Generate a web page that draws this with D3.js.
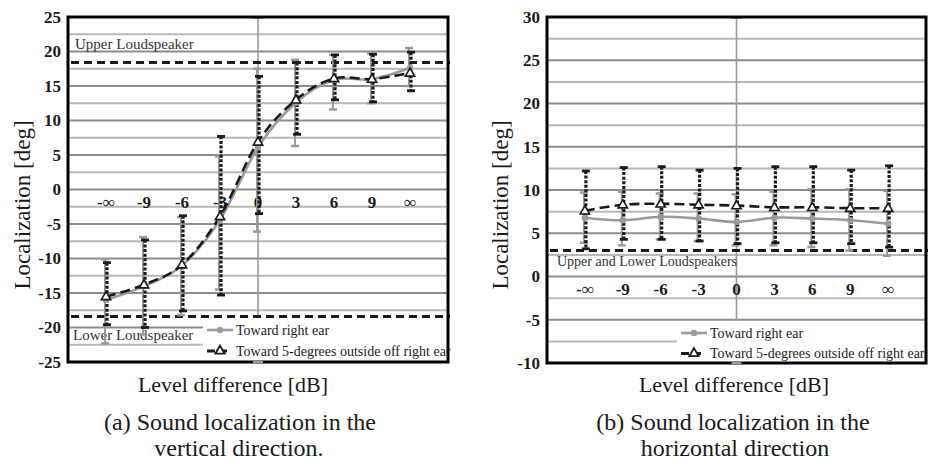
<!DOCTYPE html>
<html>
<head>
<meta charset="utf-8">
<script src="https://cdn.jsdelivr.net/npm/d3@7"></script>
<style>
  html, body { margin: 0; padding: 0; background: #fff; }
  svg { display: block; font-family: "Liberation Serif", "Times New Roman", serif; }
</style>
</head>
<body>
<svg id="chart" width="928" height="462"></svg>
<script>
// ---------- data ----------
const categories = ["-\u221E", "-9", "-6", "-3", "0", "3", "6", "9", "\u221E"];
const seriesNames = ["Toward right ear", "Toward 5-degrees outside off right ear"];

// (a) vertical direction
const vRightEar   = [-16.0, -14.0, -11.0, -4.4, 6.1, 12.6, 15.9, 16.0, 17.6];
const vRightEarHi = [-10.1, -6.9, -4.0, 4.8, 17.5, 18.8, 19.5, 19.7, 20.5];
const vRightEarLo = [-22.3, -21.0, -18.2, -14.5, -6.1, 6.3, 11.6, 12.5, 15.0];
const vOutside    = [-15.5, -13.8, -10.9, -3.9, 6.9, 13.0, 16.1, 16.0, 16.9];
const vOutsideHi  = [-10.6, -7.3, -3.8, 7.7, 16.4, 18.4, 19.5, 19.6, 19.9];
const vOutsideLo  = [-19.6, -20.0, -17.6, -15.3, -3.5, 8.0, 13.0, 12.7, 14.3];
const vSpeakers   = [18.4, -18.4];
const vTicks      = [25, 20, 15, 10, 5, 0, -5, -10, -15, -20, -25];

// (b) horizontal direction
const hRightEar   = [6.8, 6.5, 6.9, 6.7, 6.3, 6.8, 6.7, 6.5, 6.1];
const hRightEarHi = [9.7, 9.8, 9.6, 9.6, 9.5, 9.8, 10.1, 10.1, 9.9];
const hRightEarLo = [3.9, 3.6, 4.3, 4.1, 3.6, 3.6, 3.4, 3.0, 2.4];
const hOutside    = [7.6, 8.3, 8.4, 8.3, 8.2, 8.0, 8.0, 7.9, 7.9];
const hOutsideHi  = [12.2, 12.6, 12.7, 12.3, 12.5, 12.7, 12.7, 12.3, 12.8];
const hOutsideLo  = [3.2, 4.3, 4.3, 4.1, 3.8, 3.9, 3.9, 3.8, 3.4];
const hSpeakers   = [3.0];
const hTicks      = [30, 25, 20, 15, 10, 5, 0, -5, -10];

const yTitle = "Localization [deg]";
const xTitle = "Level difference [dB]";
const captionA = ["(a) Sound localization in the", "vertical direction."];
const captionB = ["(b) Sound localization in the", "horizontal direction"];
const speakerLabelsA = ["Upper Loudspeaker", "Lower Loudspeaker"];
const speakerLabelsB = ["Upper and Lower Loudspeakers"];

// ---------- drawing ----------
const svg = d3.select("#chart");
const GRAY = "#9a9a9a";
const BLACK = "#1a1a1a";

function drawPanel(cfg) {
  const g = svg.append("g");
  const x = d3.scalePoint().domain(categories).range([cfg.left, cfg.right]).padding(1);
  const y = d3.scaleLinear().domain(cfg.domain).range([cfg.bottom, cfg.top]);

  // gridlines every 2.5
  const grid = d3.range(cfg.domain[0], cfg.domain[1] + 0.001, 2.5);
  g.append("g").selectAll("line").data(grid).join("line")
    .attr("x1", cfg.left).attr("x2", cfg.right)
    .attr("y1", d => y(d)).attr("y2", d => y(d))
    .attr("stroke", d => (Math.abs(d % 5) < 1e-6 ? "#8c8c8c" : "#b8b8b8"))
    .attr("stroke-width", 2);

  // vertical axis crossing at category "0"
  const x0 = x("0");
  g.append("line").attr("x1", x0).attr("x2", x0)
    .attr("y1", cfg.top).attr("y2", cfg.bottom)
    .attr("stroke", GRAY).attr("stroke-width", 1.6);
  g.append("line").attr("x1", x0 - 5).attr("x2", x0 + 5)
    .attr("y1", cfg.top + 1).attr("y2", cfg.top + 1)
    .attr("stroke", GRAY).attr("stroke-width", 2);

  // y tick labels
  g.append("g").selectAll("text").data(cfg.ticks).join("text")
    .attr("x", cfg.left - 7).attr("y", d => y(d))
    .attr("dy", "0.35em").attr("text-anchor", "end")
    .attr("font-size", 17).attr("font-weight", "bold").attr("fill", BLACK)
    .text(d => d);

  // category labels inside the plot, below y=0
  g.append("g").selectAll("text").data(categories).join("text")
    .attr("x", d => x(d)).attr("y", y(0) + 18.5)
    .attr("text-anchor", "middle")
    .attr("font-size", 17).attr("font-weight", "bold").attr("fill", BLACK)
    .text(d => d);

  // loudspeaker dashed lines
  g.append("g").selectAll("line").data(cfg.speakers).join("line")
    .attr("x1", cfg.left + 3).attr("x2", cfg.right + 2)
    .attr("y1", d => y(d)).attr("y2", d => y(d))
    .attr("stroke", BLACK).attr("stroke-width", 3)
    .attr("stroke-dasharray", "8,5");

  // speaker labels
  cfg.speakerLabels.forEach(s => {
    g.append("text").attr("x", s.x).attr("y", s.y)
      .attr("font-size", s.size).attr("fill", "#333").text(s.text);
  });

  const idx = d3.range(categories.length);

  // error bars: gray series
  const eg = g.append("g");
  idx.forEach(i => {
    const cx = x(categories[i]) - 1;
    eg.append("line").attr("x1", cx).attr("x2", cx)
      .attr("y1", y(cfg.s1Hi[i])).attr("y2", y(cfg.s1Lo[i]))
      .attr("stroke", GRAY).attr("stroke-width", 2);
    [cfg.s1Hi[i], cfg.s1Lo[i]].forEach(v => {
      eg.append("line").attr("x1", cx - 4).attr("x2", cx + 4)
        .attr("y1", y(v)).attr("y2", y(v))
        .attr("stroke", GRAY).attr("stroke-width", 2.5);
    });
  });
  // error bars: black series (dotted)
  const eb = g.append("g");
  idx.forEach(i => {
    const cx = x(categories[i]) + 1;
    eb.append("line").attr("x1", cx).attr("x2", cx)
      .attr("y1", y(cfg.s2Hi[i])).attr("y2", y(cfg.s2Lo[i]))
      .attr("stroke", BLACK).attr("stroke-width", 3.2)
      .attr("stroke-dasharray", "3,1.6");
    [cfg.s2Hi[i], cfg.s2Lo[i]].forEach(v => {
      eb.append("line").attr("x1", cx - 4).attr("x2", cx + 4)
        .attr("y1", y(v)).attr("y2", y(v))
        .attr("stroke", BLACK).attr("stroke-width", 2.8);
    });
  });

  // series lines (smoothed)
  const line = d3.line()
    .x((d, i) => x(categories[i]))
    .y(d => y(d))
    .curve(d3.curveCardinal.tension(0));
  g.append("path").datum(cfg.s1).attr("d", line)
    .attr("fill", "none").attr("stroke", GRAY).attr("stroke-width", 2.6);
  g.append("path").datum(cfg.s2).attr("d", line)
    .attr("fill", "none").attr("stroke", BLACK).attr("stroke-width", 2.6)
    .attr("stroke-dasharray", "10,5");

  // markers
  g.append("g").selectAll("circle").data(cfg.s1).join("circle")
    .attr("cx", (d, i) => x(categories[i])).attr("cy", d => y(d))
    .attr("r", 3.2).attr("fill", GRAY);
  const tri = d3.symbol().type(d3.symbolTriangle).size(38);
  g.append("g").selectAll("path").data(cfg.s2).join("path")
    .attr("d", tri)
    .attr("transform", (d, i) => `translate(${x(categories[i])},${y(d) + 0.5})`)
    .attr("fill", "#fff").attr("stroke", BLACK).attr("stroke-width", 1.6);

  // legend
  const L = cfg.legend;
  g.append("rect").attr("x", L.x).attr("y", L.y).attr("width", cfg.right - L.x)
    .attr("height", cfg.bottom - L.y).attr("fill", "#fff");
  const lx1 = L.x + 4, lx2 = L.x + 30, lm = (lx1 + lx2) / 2;
  g.append("line").attr("x1", lx1).attr("x2", lx2).attr("y1", L.r1).attr("y2", L.r1)
    .attr("stroke", GRAY).attr("stroke-width", 2.6);
  g.append("circle").attr("cx", lm).attr("cy", L.r1).attr("r", 3.2).attr("fill", GRAY);
  g.append("line").attr("x1", lx1).attr("x2", lx2).attr("y1", L.r2).attr("y2", L.r2)
    .attr("stroke", BLACK).attr("stroke-width", 2.8).attr("stroke-dasharray", "8,4,8");
  g.append("path").attr("d", tri).attr("transform", `translate(${lm},${L.r2})`)
    .attr("fill", "#fff").attr("stroke", BLACK).attr("stroke-width", 1.8);
  [L.r1, L.r2].forEach((ry, k) => {
    g.append("text").attr("x", lx2 + 3).attr("y", ry).attr("dy", "0.33em")
      .attr("font-size", 14).attr("fill", BLACK).text(seriesNames[k]);
  });

  // frame
  g.append("rect").attr("x", cfg.left).attr("y", cfg.top)
    .attr("width", cfg.right - cfg.left).attr("height", cfg.bottom - cfg.top)
    .attr("fill", "none").attr("stroke", "#000").attr("stroke-width", 3);
  // bottom tick of vertical axis
  g.append("line").attr("x1", x0 - 5).attr("x2", x0 + 5)
    .attr("y1", cfg.bottom).attr("y2", cfg.bottom)
    .attr("stroke", GRAY).attr("stroke-width", 2);

  // axis titles
  g.append("text")
    .attr("transform", `translate(${cfg.yTitleX},${cfg.yTitleY}) rotate(-90)`)
    .attr("text-anchor", "middle").attr("dy", "0.35em")
    .attr("font-size", 23).attr("fill", BLACK).text(yTitle);
  g.append("text").attr("x", cfg.xTitleX).attr("y", 392)
    .attr("text-anchor", "middle").attr("font-size", 22).attr("fill", BLACK).text(xTitle);
  cfg.caption.forEach((c, k) => {
    g.append("text").attr("x", cfg.capX[k]).attr("y", k === 0 ? 430 : 456)
      .attr("text-anchor", "middle").attr("font-size", 24).attr("fill", BLACK).text(c);
  });
}

drawPanel({
  left: 68, right: 448, top: 17, bottom: 362, domain: [-25, 25], ticks: vTicks,
  s1: vRightEar, s1Hi: vRightEarHi, s1Lo: vRightEarLo,
  s2: vOutside, s2Hi: vOutsideHi, s2Lo: vOutsideLo,
  speakers: vSpeakers,
  speakerLabels: [
    { text: speakerLabelsA[0], x: 75, y: 49, size: 15 },
    { text: speakerLabelsA[1], x: 73, y: 340, size: 15 }
  ],
  legend: { x: 203, y: 318, r1: 330, r2: 351 },
  yTitleX: 22, yTitleY: 205, xTitleX: 233,
  caption: captionA, capX: [240, 239]
});

drawPanel({
  left: 547, right: 926, top: 17, bottom: 363, domain: [-10, 30], ticks: hTicks,
  s1: hRightEar, s1Hi: hRightEarHi, s1Lo: hRightEarLo,
  s2: hOutside, s2Hi: hOutsideHi, s2Lo: hOutsideLo,
  speakers: hSpeakers,
  speakerLabels: [
    { text: speakerLabelsB[0], x: 557, y: 266, size: 14 }
  ],
  legend: { x: 677, y: 321, r1: 333, r2: 353.5 },
  yTitleX: 500, yTitleY: 205, xTitleX: 734,
  caption: captionB, capX: [733, 735]
});
</script>
</body>
</html>
